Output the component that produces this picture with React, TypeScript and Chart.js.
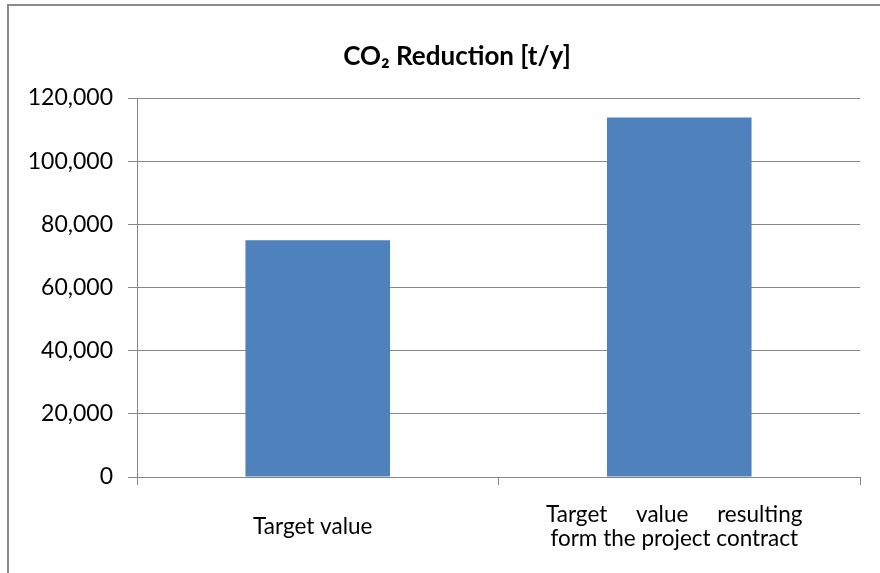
import React, { useEffect, useRef } from 'react';
import { Chart, registerables } from 'chart.js';

Chart.register(...registerables);

const titleText = 'CO\u2082 Reduction [t/y]';
const categories: (string | string[])[] = [
  'Target value',
  ['Target     value     resulting', 'form the project contract'],
];
const values = [75000, 113800];
const yMin = 0;
const yMax = 120000;
const yStep = 20000;

const BAR = '#4F81BD';
const GRID = '#868686';
const FONT = 'Lato, "Open Sans", sans-serif';

const decorPlugin = {
  id: 'decor',
  beforeDraw(chart: any) {
    const ctx = chart.ctx;
    ctx.save();
    ctx.fillStyle = '#ffffff';
    ctx.fillRect(0, 0, chart.width, chart.height);
    ctx.strokeStyle = '#8a8a8a';
    ctx.lineWidth = 2;
    ctx.beginPath();
    ctx.moveTo(8, chart.height + 10);
    ctx.lineTo(8, 5);
    ctx.lineTo(chart.width + 10, 5);
    ctx.stroke();
    ctx.restore();
  },
  afterDraw(chart: any) {
    const ctx = chart.ctx;
    ctx.save();
    ctx.fillStyle = '#000000';
    ctx.font = `bold 26px ${FONT}`;
    ctx.textAlign = 'center';
    ctx.textBaseline = 'middle';
    ctx.fillText(titleText, 457, 57);
    ctx.restore();
  },
};

export default function App() {
  const ref = useRef<HTMLCanvasElement>(null);
  useEffect(() => {
    if (!ref.current) return;
    const chart = new Chart(ref.current, {
      type: 'bar',
      data: {
        labels: categories,
        datasets: [
          {
            data: values,
            backgroundColor: BAR,
            borderWidth: 0,
            barPercentage: 0.4,
            categoryPercentage: 1,
          },
        ],
      },
      options: {
        responsive: false,
        animation: false,
        devicePixelRatio: 1,
        layout: { padding: { top: 98, left: 0, right: 20, bottom: 0 } },
        plugins: {
          legend: { display: false },
          title: { display: false },
          tooltip: { enabled: false },
        },
        scales: {
          x: {
            afterFit(scale: any) {
              scale.height = 96;
            },
            grid: {
              display: true,
              drawOnChartArea: false,
              drawTicks: true,
              tickLength: 8,
              color: GRID,
              offset: true,
            },
            border: { display: true, color: GRID, width: 1 },
            ticks: {
              color: '#000000',
              padding: 30,
              labelOffset: -5,
              maxRotation: 0,
              autoSkip: false,
              crossAlign: 'center',
              font: { family: FONT, size: 22.5, lineHeight: 24 / 22.5 },
            },
          },
          y: {
            min: yMin,
            max: yMax,
            afterFit(scale: any) {
              scale.width = 137;
            },
            grid: {
              color: GRID,
              drawTicks: true,
              tickLength: 9,
            },
            border: { display: true, color: GRID, width: 1 },
            ticks: {
              stepSize: yStep,
              color: '#000000',
              padding: 15,
              font: { family: FONT, size: 23 },
              callback: (v: any) => Number(v).toLocaleString('en-US'),
            },
          },
        },
      },
      plugins: [decorPlugin],
    });
    return () => chart.destroy();
  }, []);
  return (
    <div style={{ position: 'absolute', left: 0, top: 0, width: 880, height: 573 }}>
      <canvas ref={ref} width={880} height={573} style={{ display: 'block' }} />
    </div>
  );
}
